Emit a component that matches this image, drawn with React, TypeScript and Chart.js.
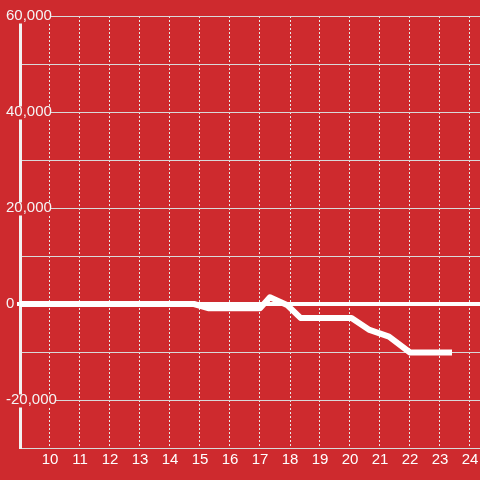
import React, { useEffect, useRef } from "react";
import { Chart, registerables } from "chart.js";

Chart.register(...registerables);

const RED = "rgb(206, 42, 46)";

// Hours of the day (x) and cumulative values (y) of the white line
const hours = [9, 14.8, 15.3, 17.0, 17.33, 17.9, 18.35, 20.05, 20.65, 21.3, 22.0, 23.4];
const values = [0, 0, -900, -900, 1400, -200, -2900, -2900, -5400, -6800, -10100, -10100];

// Axis ticks
const xTicks = [10, 11, 12, 13, 14, 15, 16, 17, 18, 19, 20, 21, 22, 23, 24];
const yTicks = [-30000, -20000, -10000, 0, 10000, 20000, 30000, 40000, 50000, 60000];
const yLabelled = [-20000, 0, 20000, 40000, 60000];

export default function App() {
  const ref = useRef<HTMLCanvasElement | null>(null);

  useEffect(() => {
    if (!ref.current) return;
    const chart = new Chart(ref.current, {
      type: "line",
      data: {
        datasets: [
          {
            data: hours.map((h, i) => ({ x: h, y: values[i] })),
            borderColor: "#ffffff",
            borderWidth: 6,
            pointRadius: 0,
            tension: 0,
            borderJoinStyle: "round",
            fill: false,
          },
        ],
      },
      options: {
        animation: false,
        responsive: false,
        layout: { padding: { top: 16, right: 0, left: 0, bottom: 0 } },
        plugins: { legend: { display: false }, tooltip: { enabled: false } },
        scales: {
          x: {
            type: "linear",
            min: 9,
            max: 9 + 460 / 30,
            afterBuildTicks: (s: any) => {
              s.ticks = xTicks.map((v) => ({ value: v }));
            },
            afterFit: (s: any) => {
              s.height = 32;
            },
            ticks: {
              color: "#ffffff",
              padding: 0,
              maxRotation: 0,
              autoSkip: false,
              font: { size: 15, family: "'Liberation Sans', Arial, sans-serif", lineHeight: 1.6 },
              callback: (v: any) => String(v),
            },
            grid: { color: "#e8e8e8", lineWidth: 1, drawTicks: false },
            border: { display: false, dash: [2, 2] },
          },
          y: {
            type: "linear",
            min: -30000,
            max: 60000,
            afterBuildTicks: (s: any) => {
              s.ticks = yTicks.map((v) => ({ value: v }));
            },
            afterFit: (s: any) => {
              s.width = 20;
            },
            ticks: {
              mirror: true,
              padding: -14,
              color: "#f5f5f5",
              showLabelBackdrop: true,
              backdropColor: RED,
              backdropPadding: { top: -2, bottom: 0, left: 2, right: -1 },
              font: { size: 15, family: "'Liberation Sans', Arial, sans-serif", lineHeight: 1 },
              callback: (v: any) => (yLabelled.includes(v) ? Number(v).toLocaleString("en-US") : ""),
            },
            grid: {
              color: (c: any) => (c.tick && c.tick.value === 0 ? "#ffffff" : "#d9d9d9"),
              lineWidth: (c: any) => (c.tick && c.tick.value === 0 ? 4 : 1),
              drawTicks: true,
              tickLength: 3,
              tickColor: (c: any) => (c.tick && c.tick.value === 0 ? "#ffffff" : "rgba(0,0,0,0)"),
            },
            border: { display: true, color: "#f2f2f2", width: 3 },
          },
        },
      },
    });
    return () => chart.destroy();
  }, []);

  return (
    <div
      style={{
        position: "fixed",
        left: 0,
        top: 0,
        width: 480,
        height: 480,
        background: RED,
      }}
    >
      <canvas ref={ref} width={480} height={480} style={{ display: "block" }} />
    </div>
  );
}
